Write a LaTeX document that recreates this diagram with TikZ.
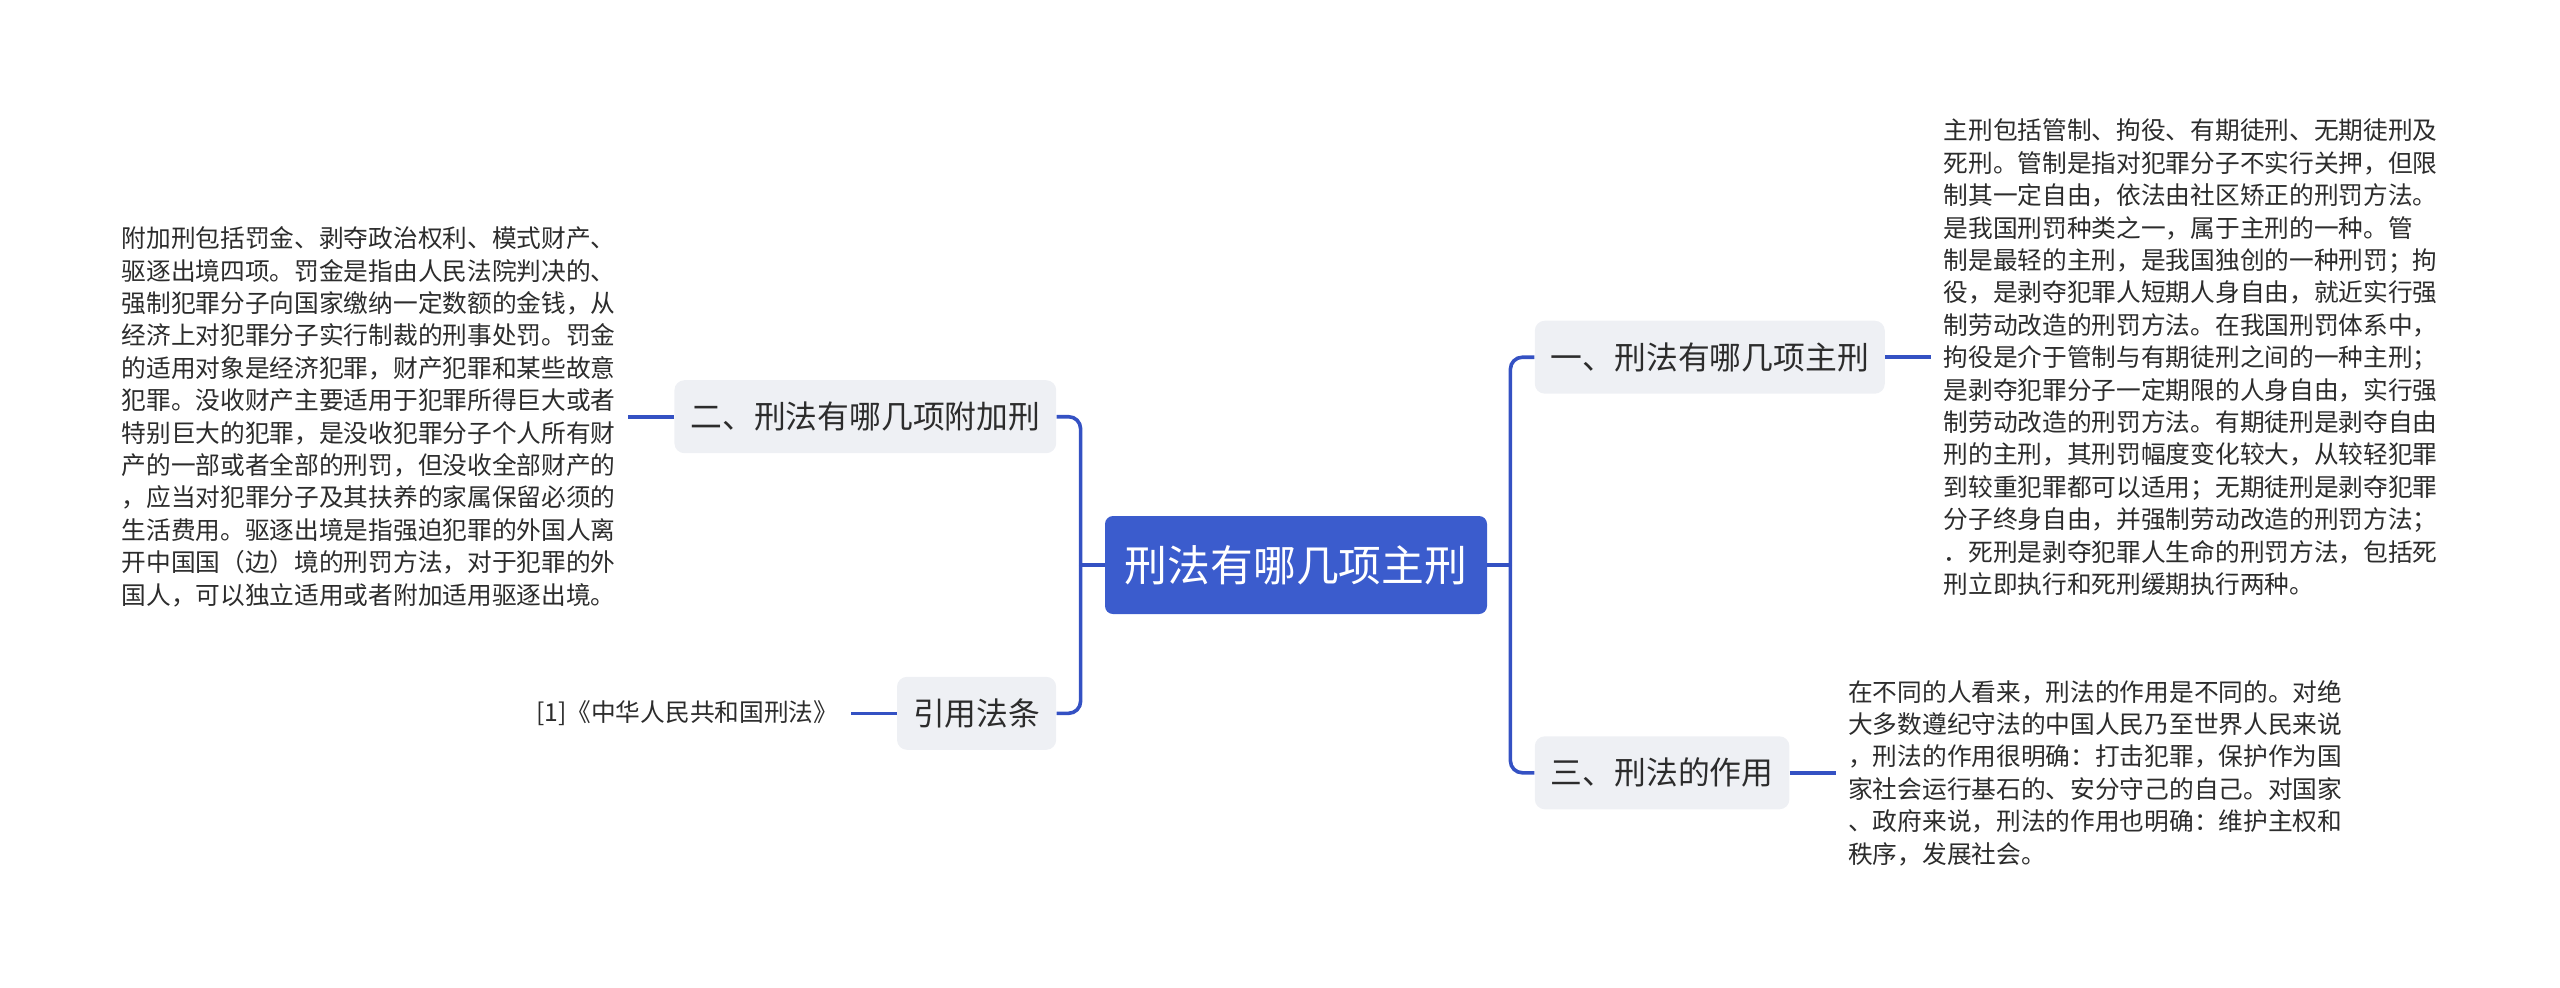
\documentclass[tikz,border=0pt]{standalone}
\usepackage{fontspec}
\setmainfont{Noto Sans CJK SC}
\usetikzlibrary{positioning}
\definecolor{hubblue}{HTML}{3B5CCD}
\definecolor{linkblue}{HTML}{3451C3}
\definecolor{boxgray}{HTML}{EEF0F4}
\definecolor{inkgray}{HTML}{2C2C2C}
\tikzset{
  hub/.style={rectangle, rounded corners=4pt, fill=hubblue, text=white, font=\fontsize{21.4pt}{26pt}\selectfont, minimum width=191pt, minimum height=49pt, inner sep=0pt},
  branch/.style={rectangle, rounded corners=5pt, fill=boxgray, text=inkgray, font=\fontsize{15.9pt}{19pt}\selectfont, minimum height=36.5pt, inner xsep=8pt},
  leaf/.style={align=left, text=inkgray, font=\fontsize{12.35pt}{16.2pt}\selectfont, inner xsep=6pt, inner ysep=2pt},
  link/.style={draw=linkblue, line width=1.8pt, rounded corners=6pt}
}

\begin{document}
\begin{tikzpicture}[x=0.5pt, y=-0.5pt, node distance=23pt]
\useasboundingbox (0,0) rectangle (2560,987);
\node[hub] (hub) at (1296,565) {刑法有哪几项主刑};
\node[branch, above left=31pt and 24pt of hub] (fujia) {二、刑法有哪几项附加刑};
\node[branch, below left=31pt and 24pt of hub] (yinyong) {引用法条};
\node[branch, above right=60.75pt and 23.5pt of hub] (zhuxing) {一、刑法有哪几项主刑};
\node[branch, below right=60.75pt and 23.5pt of hub] (zuoyong) {三、刑法的作用};

\node[leaf, left=of fujia] (fujiatxt) {附加刑包括罚金、剥夺政治权利、模式财产、\\驱逐出境四项。罚金是指由人民法院判决的、\\强制犯罪分子向国家缴纳一定数额的金钱，从\\经济上对犯罪分子实行制裁的刑事处罚。罚金\\的适用对象是经济犯罪，财产犯罪和某些故意\\犯罪。没收财产主要适用于犯罪所得巨大或者\\特别巨大的犯罪，是没收犯罪分子个人所有财\\产的一部或者全部的刑罚，但没收全部财产的\\，应当对犯罪分子及其扶养的家属保留必须的\\生活费用。驱逐出境是指强迫犯罪的外国人离\\开中国国（边）境的刑罚方法，对于犯罪的外\\国人，可以独立适用或者附加适用驱逐出境。};
\node[leaf, left=of yinyong] (citetxt) {[1]《中华人民共和国刑法》};
\node[leaf, right=of zhuxing] (zhuxingtxt) {主刑包括管制、拘役、有期徒刑、无期徒刑及\\死刑。管制是指对犯罪分子不实行关押，但限\\制其一定自由，依法由社区矫正的刑罚方法。\\是我国刑罚种类之一，属于主刑的一种。管\\制是最轻的主刑，是我国独创的一种刑罚；拘\\役，是剥夺犯罪人短期人身自由，就近实行强\\制劳动改造的刑罚方法。在我国刑罚体系中，\\拘役是介于管制与有期徒刑之间的一种主刑；\\是剥夺犯罪分子一定期限的人身自由，实行强\\制劳动改造的刑罚方法。有期徒刑是剥夺自由\\刑的主刑，其刑罚幅度变化较大，从较轻犯罪\\到较重犯罪都可以适用；无期徒刑是剥夺犯罪\\分子终身自由，并强制劳动改造的刑罚方法；\\．死刑是剥夺犯罪人生命的刑罚方法，包括死\\刑立即执行和死刑缓期执行两种。};
\node[leaf, right=of zuoyong] (zuoyongtxt) {在不同的人看来，刑法的作用是不同的。对绝\\大多数遵纪守法的中国人民乃至世界人民来说\\，刑法的作用很明确：打击犯罪，保护作为国\\家社会运行基石的、安分守己的自己。对国家\\、政府来说，刑法的作用也明确：维护主权和\\秩序，发展社会。};

% branches off the hub
\coordinate[left=12pt of hub.west] (ljoin);
\coordinate[right=11.5pt of hub.east] (rjoin);
\draw[link] (hub.west) -- (ljoin); \draw[link] (hub.east) -- (rjoin);
\draw[link] (ljoin) |- (fujia.east); \draw[link] (ljoin) |- (yinyong.east);
\draw[link] (rjoin) |- (zhuxing.west); \draw[link] (rjoin) |- (zuoyong.west);

% leaves
\draw[link] (fujia.west) -- (fujiatxt.east);
\draw[link] (yinyong.west) -- (citetxt.east);
\draw[link] (zhuxing.east) -- (zhuxingtxt.west);
\draw[link] (zuoyong.east) -- (zuoyongtxt.west);
\end{tikzpicture}
\end{document}
